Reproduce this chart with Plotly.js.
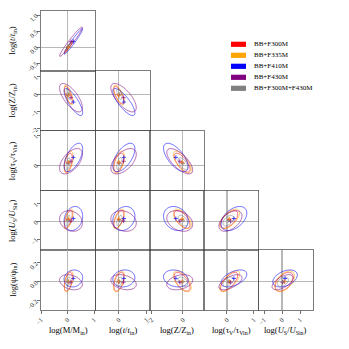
<!DOCTYPE html>
<html>
<head>
<meta charset="utf-8">
<script src="https://cdn.plot.ly/plotly-3.0.1.min.js"></script>
<style>
html,body{margin:0;padding:0;background:#fff}
#corner{width:349px;height:349px}
</style>
</head>
<body>
<div id="corner"></div>
<script>
// parameters: M, t, Z, tauV, US, psi
const paramLabels = ['log(M/M<sub>in</sub>)', 'log(<i>t</i>/<i>t</i><sub>in</sub>)', 'log(Z/Z<sub>in</sub>)',
  'log(τ<sub>V</sub>/τ<sub>Vin</sub>)', 'log(<i>U</i><sub>S</sub>/<i>U</i><sub>Sin</sub>)', 'log(ψ/ψ<sub>in</sub>)'];

// axis ranges and ticks, columns = M..US, rows = t..psi
const colRanges = [[-1, 1.05], [-0.85, 1.12], [-2.1, 1.35], [-0.85, 1.18], [-1.3, 1.72]];
const rowRanges = [[-0.74, 1.13], [-2.1, 1.35], [-0.86, 1.17], [-1.62, 1.76], [-0.3, 0.335]];
const colTicks = [[-1, 0, 1], [0, 1], [-2, 0], [0, 1], [-1, 0, 1]];
const rowTicks = [[-0.5, 0, 0.5, 1], [-2, -1, 0, 1], [0, 1], [-1, 0, 1], [-0.2, 0, 0.2]];
const rowFormats = ['.1f', 'd', 'd', 'd', '.1f'];

const seriesNames = ['BB+F300M', 'BB+F335M', 'BB+F410M', 'BB+F430M', 'BB+F300M+F430M'];
const seriesColors = ['#ff0000', '#ffa500', '#0000ff', '#800080', '#808080'];

// contour centre and half-extent per parameter (M, t, Z, tauV, US, psi)
const f300Center = [0.03, 0.0, -0.05, 0.08, 0.12, 0.0];
const f300Half = [0.15, 0.18, 0.5, 0.32, 0.5, 0.1];
const f335Center = [0.04, 0.0, -0.04, 0.1, 0.15, 0.005];
const f335Half = [0.17, 0.2, 0.57, 0.37, 0.55, 0.11];
const f410Center = [0.22, 0.18, -0.45, 0.26, 0.17, 0.035];
const f410Half = [0.35, 0.4, 0.78, 0.48, 0.68, 0.09];
const f430Center = [0.13, 0.17, -0.2, 0.13, 0.03, -0.005];
const f430Half = [0.43, 0.46, 0.82, 0.43, 0.58, 0.08];
const comboCenter = [0.02, 0.02, 0.0, 0.05, 0.05, 0.0];
const comboHalf = [0.08, 0.1, 0.3, 0.2, 0.3, 0.05];

// correlation per panel, panels ordered row by row
const f300Rho = [0.97, -0.7, -0.7, 0.5, 0.5, -0.7, 0.6, 0.6, -0.6, 0.6, 0.5, 0.5, -0.6, 0.7, 0.5];
const f335Rho = [0.97, -0.7, -0.7, 0.5, 0.5, -0.7, 0.6, 0.6, -0.6, 0.6, 0.5, 0.5, -0.6, 0.7, 0.5];
const f410Rho = [0.97, -0.8, -0.8, 0.6, 0.6, -0.65, 0.2, 0.2, -0.2, 0.45, 0.1, 0.1, -0.2, 0.5, 0.4];
const f430Rho = [0.97, -0.7, -0.7, 0.55, 0.55, -0.7, -0.2, -0.2, -0.3, 0.5, -0.3, -0.3, 0.3, 0.6, 0.6];
const comboRho = [0.95, -0.6, -0.6, 0.5, 0.5, -0.6, 0.5, 0.5, -0.5, 0.5, 0.4, 0.4, -0.5, 0.5, 0.4];

const centers = [f300Center, f335Center, f410Center, f430Center, comboCenter];
const halves = [f300Half, f335Half, f410Half, f430Half, comboHalf];
const rhos = [f300Rho, f335Rho, f410Rho, f430Rho, comboRho];

const W = 349, H = 349;
const gridLeft = 41, colW = 54.4, gridTop = 11, rowH = 59.8;
const serif = 'Liberation Serif, Times New Roman, serif';

let panels = [];
for (let r = 0; r < 5; r++) {
  for (let c = 0; c <= r; c++) panels.push([r, c]);
}

let traces = [];
let layout = {
  width: W, height: H,
  margin: {l: 0, r: 0, t: 0, b: 0},
  paper_bgcolor: '#fff', plot_bgcolor: '#fff',
  showlegend: false,
  font: {family: serif, size: 7, color: '#000'},
  shapes: [], annotations: []
};

panels.forEach(([r, c], k) => {
  let xa = k === 0 ? 'x' : 'x' + (k + 1);
  let ya = k === 0 ? 'y' : 'y' + (k + 1);
  let px = c, py = r + 1;
  let common = {
    showgrid: false, zeroline: true, zerolinecolor: '#b8b8b8', zerolinewidth: 1.1,
    showline: true, mirror: true, linecolor: '#444', linewidth: 0.7,
    tickfont: {family: serif, size: 6.5, color: '#222'}, tickangle: -45,
    ticklen: 3, tickcolor: '#333', tickwidth: 0.7
  };
  layout['xaxis' + (k === 0 ? '' : k + 1)] = Object.assign({}, common, {
    anchor: ya,
    domain: [(gridLeft + colW * c) / W, (gridLeft + colW * (c + 1)) / W],
    range: colRanges[c],
    tickmode: 'array', tickvals: colTicks[c], tickformat: 'd',
    showticklabels: r === 4, ticks: r === 4 ? 'outside' : ''
  });
  layout['yaxis' + (k === 0 ? '' : k + 1)] = Object.assign({}, common, {
    anchor: xa,
    domain: [1 - (gridTop + rowH * (r + 1)) / H, 1 - (gridTop + rowH * r) / H],
    range: rowRanges[r],
    tickmode: 'array', tickvals: rowTicks[r], tickformat: rowFormats[r],
    showticklabels: c === 0, ticks: c === 0 ? 'outside' : ''
  });

  for (let s = 0; s < seriesNames.length; s++) {
    let cx = centers[s][px], cy = centers[s][py];
    let hx = halves[s][px], hy = halves[s][py];
    let rho = rhos[s][k];
    let n = 61, xs = [], ys = [], z = [];
    for (let i = 0; i < n; i++) {
      xs.push(cx - 1.15 * hx + 2.3 * hx * i / (n - 1));
      ys.push(cy - 1.15 * hy + 2.3 * hy * i / (n - 1));
    }
    for (let j = 0; j < n; j++) {
      let row = [];
      let v = (ys[j] - cy) / hy;
      for (let i = 0; i < n; i++) {
        let u = (xs[i] - cx) / hx;
        row.push((u * u - 2 * rho * u * v + v * v) / (1 - rho * rho));
      }
      z.push(row);
    }
    traces.push({
      type: 'contour', x: xs, y: ys, z: z, xaxis: xa, yaxis: ya,
      autocontour: false,
      contours: {start: 1, end: 1, size: 1, coloring: 'none', showlabels: false},
      line: {color: seriesColors[s], width: 0.8},
      opacity: 0.75, showscale: false, hoverinfo: 'skip', name: seriesNames[s]
    });
    traces.push({
      type: 'scatter', mode: 'markers', x: [cx], y: [cy], xaxis: xa, yaxis: ya,
      marker: {symbol: 'cross-thin', size: 3, line: {color: seriesColors[s], width: 0.8}},
      opacity: 0.85, hoverinfo: 'skip', name: seriesNames[s]
    });
  }
});

// axis titles
for (let c = 0; c < 5; c++) {
  layout.annotations.push({
    text: paramLabels[c], xref: 'paper', yref: 'paper', showarrow: false,
    x: (gridLeft + colW * (c + 0.5)) / W, y: 1 - 330 / H, xanchor: 'center', yanchor: 'middle',
    font: {family: serif, size: 8.5, color: '#000'}
  });
}
for (let r = 0; r < 5; r++) {
  layout.annotations.push({
    text: paramLabels[r + 1], xref: 'paper', yref: 'paper', showarrow: false, textangle: -90,
    x: 12.7 / W, y: 1 - (gridTop + rowH * (r + 0.5)) / H, xanchor: 'center', yanchor: 'middle',
    font: {family: serif, size: 8.5, color: '#000'}
  });
}

// legend
seriesNames.forEach((name, s) => {
  let yc = 44.3 + 11 * s;
  layout.shapes.push({
    type: 'rect', xref: 'paper', yref: 'paper',
    x0: 231 / W, x1: 246 / W, y0: 1 - (yc + 2.6) / H, y1: 1 - (yc - 2.6) / H,
    fillcolor: seriesColors[s], line: {width: 0}
  });
  layout.annotations.push({
    text: name, xref: 'paper', yref: 'paper', showarrow: false,
    x: 252 / W, y: 1 - yc / H, xanchor: 'left', yanchor: 'middle',
    font: {family: serif, size: 7, color: '#000'}
  });
});

Plotly.newPlot('corner', traces, layout, {staticPlot: true, displayModeBar: false});
</script>
</body>
</html>
